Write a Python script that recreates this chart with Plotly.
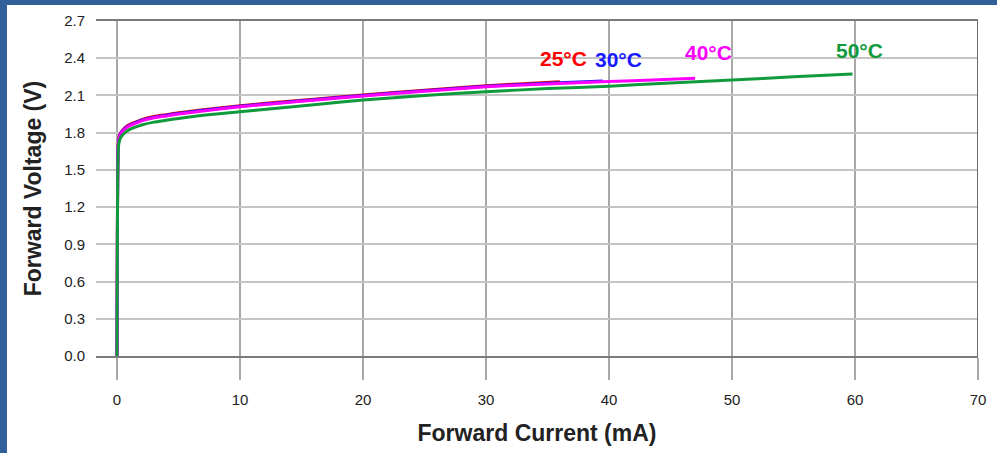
import plotly.graph_objects as go

# Forward current (mA) vs forward voltage (V) at four ambient temperatures
current_25 = [0, 0.03, 0.06, 0.1, 0.15, 0.25, 0.4, 0.7, 1, 1.5, 2, 3, 4, 5, 7, 10, 13, 16, 20, 25, 30, 33, 36]
voltage_25 = [0, 0.95, 1.5, 1.7, 1.75, 1.79, 1.815, 1.845, 1.865, 1.885, 1.905, 1.93, 1.945, 1.96, 1.985, 2.017,
              2.045, 2.07, 2.104, 2.142, 2.178, 2.195, 2.21]

current_30 = [0, 0.03, 0.06, 0.1, 0.15, 0.25, 0.4, 0.7, 1, 1.5, 2, 3, 4, 5, 7, 10, 13, 16, 20, 25, 30, 35, 39.5]
voltage_30 = [0, 0.95, 1.5, 1.69, 1.745, 1.785, 1.81, 1.84, 1.86, 1.88, 1.9, 1.925, 1.94, 1.955, 1.98, 2.012,
              2.04, 2.065, 2.1, 2.138, 2.174, 2.198, 2.216]

current_40 = [0, 0.03, 0.06, 0.1, 0.15, 0.25, 0.4, 0.7, 1, 1.5, 2, 3, 4, 5, 7, 10, 13, 16, 20, 25, 30, 35, 40, 44, 47]
voltage_40 = [0, 0.93, 1.48, 1.68, 1.74, 1.78, 1.805, 1.835, 1.855, 1.875, 1.895, 1.92, 1.935, 1.95, 1.975, 2.008,
              2.036, 2.061, 2.096, 2.134, 2.17, 2.193, 2.212, 2.226, 2.238]

current_50 = [0, 0.03, 0.06, 0.1, 0.15, 0.25, 0.4, 0.7, 1, 1.5, 2, 3, 4, 5, 7, 10, 13, 16, 20, 25, 30, 35, 40, 45,
              50, 55, 59.8]
voltage_50 = [0, 0.9, 1.45, 1.65, 1.71, 1.75, 1.775, 1.805, 1.825, 1.845, 1.862, 1.885, 1.9, 1.915, 1.94, 1.969,
              1.997, 2.025, 2.063, 2.1, 2.13, 2.155, 2.175, 2.2, 2.225, 2.25, 2.273]

series = [
    ("25°C", current_25, voltage_25, "#ff0000"),
    ("30°C", current_30, voltage_30, "#1a1aff"),
    ("40°C", current_40, voltage_40, "#ff00ff"),
    ("50°C", current_50, voltage_50, "#119a3c"),
]

# label positions (data coords) for the temperature tags
label_pos = {"25°C": (36.3, 2.40), "30°C": (40.8, 2.39), "40°C": (48.1, 2.45), "50°C": (60.4, 2.46)}

FONT = "Liberation Sans, Arial, sans-serif"
BORDER = "#31609a"

fig = go.Figure()
for name, xs, ys, color in series:
    fig.add_trace(go.Scatter(
        x=xs, y=ys, mode="lines", name=name,
        line={"color": color, "width": 3, "shape": "spline", "smoothing": 0.6},
        showlegend=False,
    ))
    lx, ly = label_pos[name]
    fig.add_annotation(
        x=lx, y=ly, text=f"<b>{name}</b>", showarrow=False,
        font={"family": FONT, "size": 21, "color": color},
    )

fig.update_layout(
    width=997, height=453,
    margin={"l": 96, "r": 19, "t": 21, "b": 97},
    paper_bgcolor="white", plot_bgcolor="white",
    font={"family": FONT, "color": "#222"},
)
fig.update_xaxes(
    range=[-1.707, 70], tickvals=[0, 10, 20, 30, 40, 50, 60, 70],
    showgrid=True, gridcolor="#a8a8a8", gridwidth=2, zeroline=False,
    ticks="outside", ticklen=22, tickwidth=2, tickcolor="#a8a8a8",
    ticklabelstandoff=7, tickfont={"size": 15},
    showline=True, mirror=True, linecolor="#7a7a7a", linewidth=2,
    automargin=False,
    title={"text": "<b>Forward Current (mA)</b>", "font": {"size": 23}, "standoff": 18},
)
fig.update_yaxes(
    range=[0, 2.7], tickvals=[0, 0.3, 0.6, 0.9, 1.2, 1.5, 1.8, 2.1, 2.4, 2.7],
    ticktext=["0.0", "0.3", "0.6", "0.9", "1.2", "1.5", "1.8", "2.1", "2.4", "2.7"],
    showgrid=True, gridcolor="#c4c4c4", gridwidth=2, zeroline=False,
    showline=False, ticks="", ticklabelstandoff=10, tickfont={"size": 15},
    automargin=False,
    title={"text": "<b>Forward Voltage (V)</b>", "font": {"size": 23}, "standoff": 16},
)

# right plot border
fig.add_shape(type="line", xref="x", yref="paper", x0=70, x1=70, y0=0, y1=1,
              line={"color": "#6a6a6a", "width": 2})
# blue frame: top band and left strip
fig.add_shape(type="rect", xref="paper", yref="paper", x0=-96 / 882, x1=1 + 19 / 882,
              y0=1 + 16 / 335, y1=1 + 22 / 335, fillcolor=BORDER, line={"width": 0}, layer="above")
fig.add_shape(type="rect", xref="paper", yref="paper", x0=-96 / 882, x1=-89 / 882,
              y0=-97 / 335, y1=1 + 22 / 335, fillcolor=BORDER, line={"width": 0}, layer="above")

fig.write_html("out.html", config={"displayModeBar": False},
               post_script="document.body.style.margin='0px';")
